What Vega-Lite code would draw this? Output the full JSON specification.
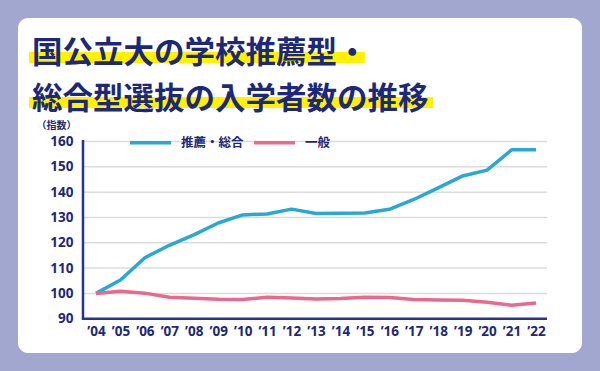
{
  "$schema": "https://vega.github.io/schema/vega-lite/v6.json",
  "autosize": "none",
  "width": 564,
  "height": 335,
  "padding": {"left": 18, "top": 18, "right": 18, "bottom": 18},
  "background": "#a1a7ce",
  "config": {
    "view": {"fill": "white", "stroke": null, "cornerRadius": 10},
    "font": "Noto Sans CJK JP",
    "axis": {"labelOverlap": false},
    "axisX": {
      "title": null,
      "labelOverlap": false, "labelSeparation": 0, "labelFlush": false,
      "offset": -34.3, "domain": false, "ticks": false, "grid": false,
      "labelPadding": 6, "labelFontSize": 13.5, "labelFontWeight": "bold",
      "labelFont": "Noto Sans", "labelColor": "#1d2878"
    },
    "axisY": {
      "titleAngle": 0, "titleX": -27, "titleY": 107,
      "titleAlign": "center", "titleBaseline": "middle", "titleFontSize": 10,
      "titleFontWeight": "bold", "titleColor": "#1d2878",
      "offset": -65, "domain": false, "ticks": false, "grid": false,
      "labelPadding": 10, "labelFontSize": 13.5, "labelFontWeight": "bold",
      "labelFont": "Noto Sans", "labelColor": "#1d2878"
    }
  },
  "title": {
    "text": ["国公立大の学校推薦型・", "総合型選抜の入学者数の推移"],
    "anchor": "start",
    "frame": "group",
    "fontSize": 30.5,
    "fontWeight": "bold",
    "color": "#1d2878",
    "lineHeight": 46,
    "offset": -97,
    "dx": 14
  },
  "datasets": {
    "series": [
      {"year": 2004, "series": "推薦・総合", "value": 100},
      {"year": 2005, "series": "推薦・総合", "value": 105.3},
      {"year": 2006, "series": "推薦・総合", "value": 114.1},
      {"year": 2007, "series": "推薦・総合", "value": 119.0},
      {"year": 2008, "series": "推薦・総合", "value": 123.1},
      {"year": 2009, "series": "推薦・総合", "value": 127.8},
      {"year": 2010, "series": "推薦・総合", "value": 131.0},
      {"year": 2011, "series": "推薦・総合", "value": 131.4},
      {"year": 2012, "series": "推薦・総合", "value": 133.3},
      {"year": 2013, "series": "推薦・総合", "value": 131.6},
      {"year": 2014, "series": "推薦・総合", "value": 131.7},
      {"year": 2015, "series": "推薦・総合", "value": 131.8},
      {"year": 2016, "series": "推薦・総合", "value": 133.2},
      {"year": 2017, "series": "推薦・総合", "value": 137.1},
      {"year": 2018, "series": "推薦・総合", "value": 141.7},
      {"year": 2019, "series": "推薦・総合", "value": 146.4},
      {"year": 2020, "series": "推薦・総合", "value": 148.7},
      {"year": 2021, "series": "推薦・総合", "value": 156.7},
      {"year": 2022, "series": "推薦・総合", "value": 156.7},
      {"year": 2004, "series": "一般", "value": 100},
      {"year": 2005, "series": "一般", "value": 100.8},
      {"year": 2006, "series": "一般", "value": 100.1},
      {"year": 2007, "series": "一般", "value": 98.5},
      {"year": 2008, "series": "一般", "value": 98.1},
      {"year": 2009, "series": "一般", "value": 97.7},
      {"year": 2010, "series": "一般", "value": 97.6},
      {"year": 2011, "series": "一般", "value": 98.5},
      {"year": 2012, "series": "一般", "value": 98.2},
      {"year": 2013, "series": "一般", "value": 97.8},
      {"year": 2014, "series": "一般", "value": 98.0},
      {"year": 2015, "series": "一般", "value": 98.5},
      {"year": 2016, "series": "一般", "value": 98.4},
      {"year": 2017, "series": "一般", "value": 97.6},
      {"year": 2018, "series": "一般", "value": 97.4},
      {"year": 2019, "series": "一般", "value": 97.3},
      {"year": 2020, "series": "一般", "value": 96.5},
      {"year": 2021, "series": "一般", "value": 95.3},
      {"year": 2022, "series": "一般", "value": 96.2}
    ],
    "grid": [
      {"tick": 100}, {"tick": 110}, {"tick": 120}, {"tick": 130},
      {"tick": 140}, {"tick": 150}, {"tick": 160}
    ],
    "one": [{}]
  },
  "layer": [
    {
      "data": {"name": "one"},
      "mark": {"type": "rect", "color": "#fff200"},
      "encoding": {
        "x": {
          "datum": 2001.26, "type": "quantitative",
          "scale": {"domain": [2000.809, 2023.882], "nice": false, "zero": false},
          "axis": {
            "values": [2004, 2005, 2006, 2007, 2008, 2009, 2010, 2011, 2012, 2013, 2014, 2015, 2016, 2017, 2018, 2019, 2020, 2021, 2022],
            "tickCount": 40,
            "labelExpr": "'’' + slice(format(datum.value, 'd'), 2)"
          }
        },
        "x2": {"datum": 2015.0},
        "y": {
          "datum": 195.4, "type": "quantitative",
          "scale": {"domain": [76.45, 208.8], "nice": false, "zero": false},
          "axis": {"title": "（指数）", "values": [90, 100, 110, 120, 130, 140, 150, 160], "tickCount": 20}
        },
        "y2": {"datum": 191.0}
      }
    },
    {
      "data": {"name": "one"},
      "mark": {"type": "rect", "color": "#fff200"},
      "encoding": {
        "x": {"datum": 2001.26, "type": "quantitative"},
        "x2": {"datum": 2017.79},
        "y": {"datum": 177.6, "type": "quantitative"},
        "y2": {"datum": 173.2}
      }
    },
    {
      "data": {"name": "grid"},
      "mark": {"type": "rule", "color": "#dcdcdc", "strokeWidth": 1.5},
      "encoding": {
        "x": {"datum": 2003.468, "type": "quantitative"},
        "x2": {"datum": 2022.45},
        "y": {"field": "tick", "type": "quantitative"}
      }
    },
    {
      "data": {"name": "series"},
      "mark": {"type": "line", "strokeWidth": 3.5, "strokeJoin": "round"},
      "encoding": {
        "x": {"field": "year", "type": "quantitative"},
        "y": {"field": "value", "type": "quantitative"},
        "color": {
          "field": "series", "type": "nominal",
          "scale": {"domain": ["推薦・総合", "一般"], "range": ["#27a8d6", "#e9688e"]},
          "legend": {
            "title": null, "orient": "none", "legendX": 110, "legendY": 102,
            "direction": "horizontal", "symbolType": "stroke", "symbolSize": 1681,
            "symbolStrokeWidth": 3.5, "labelFontSize": 12.5, "labelFontWeight": "bold",
            "labelColor": "#1d2878", "labelOffset": 8, "columnPadding": 3, "padding": 0
          }
        }
      }
    },
    {
      "data": {"name": "one"},
      "mark": {"type": "rule", "color": "#27348b", "strokeWidth": 2.5},
      "encoding": {
        "x": {"datum": 2003.468, "type": "quantitative"},
        "y": {"datum": 90, "type": "quantitative"},
        "y2": {"datum": 160.6}
      }
    },
    {
      "data": {"name": "one"},
      "mark": {"type": "rule", "color": "#27348b", "strokeWidth": 2.5},
      "encoding": {
        "x": {"datum": 2003.42, "type": "quantitative"},
        "x2": {"datum": 2022.45},
        "y": {"datum": 90, "type": "quantitative"}
      }
    }
  ]
}
